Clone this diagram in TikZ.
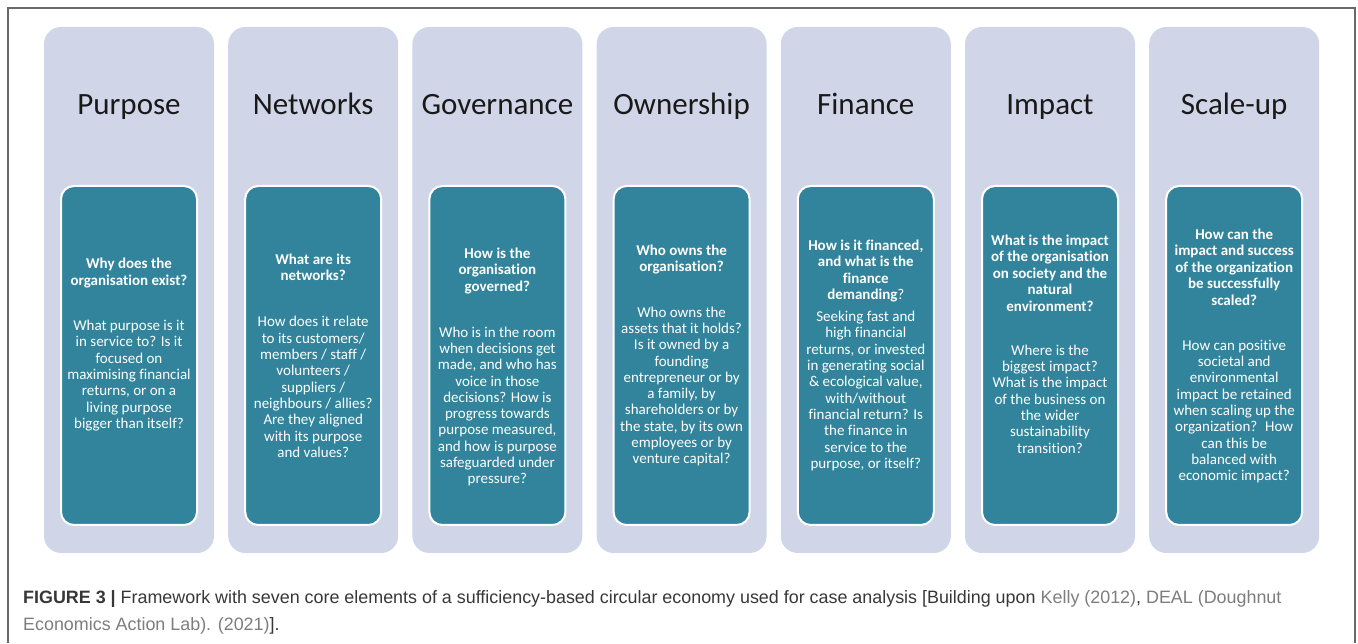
\documentclass[tikz,border=0pt]{standalone}
\usepackage{fontspec}
\usepackage{xcolor}
\setmainfont[Ligatures=NoCommon]{Carlito}
\newfontfamily\capfont{Liberation Sans}
\definecolor{panelgray}{RGB}{208,214,231}
\definecolor{cardteal}{RGB}{49,132,155}
\definecolor{framegray}{RGB}{105,105,105}
\definecolor{captext}{RGB}{55,55,55}
\definecolor{caplink}{RGB}{125,125,125}

\begin{document}
\begin{tikzpicture}[x=1pt, y=1pt,
    panel/.style={rectangle, fill=panelgray, rounded corners=17pt, minimum width=170pt, minimum height=526pt, inner sep=0pt},
    card/.style={rectangle, draw=white, line width=2pt, fill=cardteal, rounded corners=13pt, minimum width=136pt, minimum height=339pt, inner sep=0pt},
    heading/.style={anchor=base, inner sep=0pt, text=black!90, font=\fontsize{31}{36}\selectfont},
    question/.style={align=center, inner sep=0pt, text=white, font=\fontsize{15}{16.5}\selectfont\bfseries},
    answer/.style={align=center, inner sep=0pt, text=white, font=\fontsize{15}{16.3}\selectfont},
    caption/.style={anchor=base west, inner sep=0pt, text=captext, font=\capfont\fontsize{17.9}{26}\selectfont}]
            \useasboundingbox (0,0) rectangle (1358,643);

            % Frame
            \draw[framegray, line width=1.5pt] (8,0) -- (8,635) -- (1355,635) -- (1355,0);

            % Purpose
            \node[panel] (purpose) at (129,353) {};
            \node[heading] (purpose-title) at (129,528) {Purpose};
            \node[card] (purpose-card) at (129,287.5) {};
            \node[question] (purpose-q) at (129,370) {Why does the\\organisation exist?};
            \node[answer] (purpose-a) at (129,267.5)
                {What purpose is it\\in service to? Is it\\focused on\\maximising financial\\returns, or on a\\living purpose\\bigger than itself?};

            % Networks
            \node[panel] (networks) at (313.2,353) {};
            \node[heading] (networks-title) at (313.2,528) {Networks};
            \node[card] (networks-card) at (313.2,287.5) {};
            \node[question] (networks-q) at (313.2,375.5) {What are its\\networks?};
            \node[answer] (networks-a) at (313.2,256)
                {How does it relate\\to its customers/\\members / staff /\\volunteers /\\suppliers /\\neighbours / allies?\\Are they aligned\\with its purpose\\and values?};

            % Governance
            \node[panel] (governance) at (497.4,353) {};
            \node[heading] (governance-title) at (497.4,528) {Governance};
            \node[card] (governance-card) at (497.4,287.5) {};
            \node[question] (governance-q) at (497.4,372) {How is the\\organisation\\governed?};
            \node[answer] (governance-a) at (497.4,236.5)
                {Who is in the room\\when decisions get\\made, and who has\\voice in those\\decisions? How is\\progress towards\\purpose measured,\\and how is purpose\\safeguarded under\\pressure?};

            % Ownership
            \node[panel] (ownership) at (681.6,353) {};
            \node[heading] (ownership-title) at (681.6,528) {Ownership};
            \node[card] (ownership-card) at (681.6,287.5) {};
            \node[question] (ownership-q) at (681.6,383.5) {Who owns the\\organisation?};
            \node[answer] (ownership-a) at (681.6,256.5)
                {Who owns the\\assets that it holds?\\Is it owned by a\\founding\\entrepreneur or by\\a family, by\\shareholders or by\\the state, by its own\\employees or by\\venture capital?};

            % Finance
            \node[panel] (finance) at (865.8,353) {};
            \node[heading] (finance-title) at (865.8,528) {Finance};
            \node[card] (finance-card) at (865.8,287.5) {};
            \node[question] (finance-q) at (865.8,372) {How is it financed,\\and what is the\\finance\\demanding\mdseries?};
            \node[answer] (finance-a) at (865.8,252)
                {Seeking fast and\\high financial\\returns, or invested\\in generating social\\\& ecological value,\\with/without\\financial return? Is\\the finance in\\service to the\\purpose, or itself?};

            % Impact
            \node[panel] (impact) at (1050,353) {};
            \node[heading] (impact-title) at (1050,528) {Impact};
            \node[card] (impact-card) at (1050,287.5) {};
            \node[question] (impact-q) at (1050,370) {What is the impact\\of the organisation\\on society and the\\natural\\environment?};
            \node[answer] (impact-a) at (1050,244)
                {Where is the\\biggest impact?\\What is the impact\\of the business on\\the wider\\sustainability\\transition?};

            % Scale-up
            \node[panel] (scaleup) at (1234.2,353) {};
            \node[heading] (scaleup-title) at (1234.2,528) {Scale-up};
            \node[card] (scaleup-card) at (1234.2,287.5) {};
            \node[question] (scaleup-q) at (1234.2,376) {How can the\\impact and success\\of the organization\\be successfully\\scaled?};
            \node[answer] (scaleup-a) at (1234.2,231.5)
                {How can positive\\societal and\\environmental\\impact be retained\\when scaling up the\\organization?~ How\\can this be\\balanced with\\economic impact?};

            % Caption
            \node[caption] (caption) at (23,39)
                {\textbf{FIGURE 3 |} Framework with seven core elements of a sufficiency-based circular economy used for case analysis [Building upon \textcolor{caplink}{Kelly (2012)}, \textcolor{caplink}{DEAL (Doughnut}};
            \node[caption] (caption-end) at (23,13) {\textcolor{caplink}{Economics Action Lab). (2021)}].};
        \end{tikzpicture}
\end{document}
